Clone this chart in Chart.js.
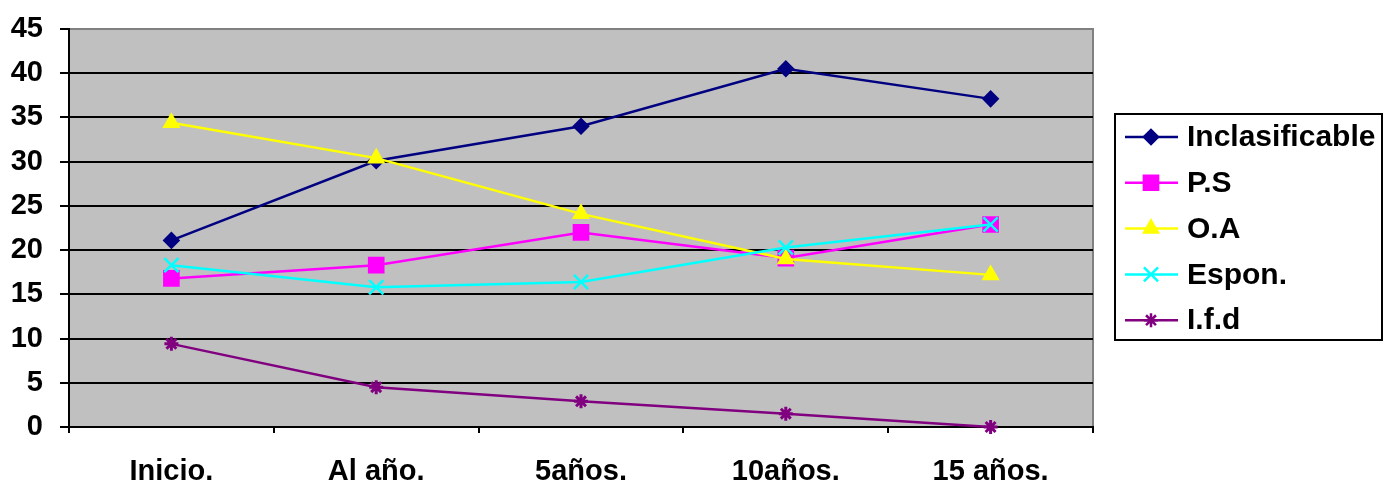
<!DOCTYPE html>
<html>
<head>
<meta charset="utf-8">
<script src="https://cdn.jsdelivr.net/npm/chart.js@4.4.0/dist/chart.umd.min.js"></script>
<style>
  html, body { margin: 0; padding: 0; background: #fff; }
  #wrap { width: 1384px; height: 487px; }
</style>
</head>
<body>
<div id="wrap"><canvas id="chart" width="1384" height="487"></canvas></div>
<script>
// data
var labels = ['Inicio.', 'Al año.', '5años.', '10años.', '15 años.'];
var inclasificable = [21.1, 30.1, 34.0, 40.5, 37.1];
var ps = [16.8, 18.3, 22.0, 19.1, 22.9];
var oa = [34.4, 30.4, 24.1, 19.0, 17.2];
var espon = [18.3, 15.8, 16.4, 20.3, 22.9];
var ifd = [9.4, 4.5, 2.9, 1.5, 0];

var FONT = "Arial, 'Liberation Sans', sans-serif";
var FSIZE = 29;

var series = [
    { label: 'Inclasificable', data: inclasificable, color: '#000080', style: 'rectRot', r: 7 },
    { label: 'P.S', data: ps, color: '#FF00FF', style: 'rect', r: 10 },
    { label: 'O.A', data: oa, color: '#FFFF00', style: 'triangle', r: 8 },
    { label: 'Espon.', data: espon, color: '#00FFFF', style: 'crossRot', r: 10 },
    { label: 'I.f.d', data: ifd, color: '#800080', style: 'star', r: 7 }
];

// gray plot background + border
var plotBg = {
    id: 'plotBg',
    beforeDraw: function(chart) {
        var a = chart.chartArea, ctx = chart.ctx;
        ctx.save();
        ctx.fillStyle = '#C0C0C0';
        ctx.fillRect(a.left, a.top, a.right - a.left, a.bottom - a.top);
        ctx.strokeStyle = '#808080';
        ctx.lineWidth = 2;
        ctx.beginPath();
        ctx.moveTo(a.left, a.top);
        ctx.lineTo(a.right, a.top);
        ctx.lineTo(a.right, a.bottom);
        ctx.stroke();
        ctx.restore();
    }
};

// legend with line + marker like the original
var sideLegend = {
    id: 'sideLegend',
    afterDraw: function(chart) {
        var ctx = chart.ctx, a = chart.chartArea;
        var x0 = a.right + 22, y0 = 114, w = 267, h = 226;
        ctx.save();
        ctx.fillStyle = '#fff';
        ctx.fillRect(x0, y0, w, h);
        ctx.strokeStyle = '#000';
        ctx.lineWidth = 2;
        ctx.strokeRect(x0, y0, w, h);
        series.forEach(function(s, i) {
            var y = 137 + i * 45.8;
            ctx.strokeStyle = s.color;
            ctx.fillStyle = s.color;
            ctx.lineWidth = 2.5;
            ctx.beginPath();
            ctx.moveTo(x0 + 10, y);
            ctx.lineTo(x0 + 63, y);
            ctx.stroke();
            Chart.helpers.drawPoint(ctx, { pointStyle: s.style, radius: s.r, rotation: 0, borderWidth: s.style === 'star' ? 3 : 2.5 }, x0 + 36, y);
            ctx.fillStyle = '#000';
            ctx.font = 'bold 30px ' + FONT;
            ctx.textBaseline = 'middle';
            ctx.textAlign = 'left';
            ctx.fillText(s.label, x0 + 72, y + 1);
        });
        ctx.restore();
    }
};

var datasets = series.map(function(s, i) {
    return {
        label: s.label,
        data: s.data,
        borderColor: s.color,
        backgroundColor: s.color,
        borderWidth: 2.5,
        pointStyle: s.style,
        pointRadius: s.r,
        pointBorderWidth: s.style === 'star' ? 3 : 2.5,
        pointBorderColor: s.color,
        pointBackgroundColor: s.color,
        tension: 0,
        clip: false,
        order: series.length - i
    };
});

new Chart(document.getElementById('chart'), {
    type: 'line',
    data: { labels: labels, datasets: datasets },
    plugins: [plotBg, sideLegend],
    options: {
        responsive: false,
        animation: false,
        devicePixelRatio: 1,
        layout: { padding: { top: 29, right: 291, left: 0, bottom: 0 } },
        plugins: { legend: { display: false }, tooltip: { enabled: false } },
        scales: {
            x: {
                offset: true,
                afterFit: function(s) { s.height = 60; s.paddingLeft = 0; s.paddingRight = 0; },
                grid: { offset: true, drawOnChartArea: false, color: '#000', lineWidth: 2, tickLength: 6 },
                border: { color: '#000', width: 2 },
                ticks: { color: '#000', font: { family: FONT, size: FSIZE, weight: 'bold' }, padding: 22, maxRotation: 0 }
            },
            y: {
                min: 0,
                max: 45,
                afterFit: function(s) { s.width = 69; s.paddingTop = 0; s.paddingBottom = 0; },
                grid: {
                    color: function(c) { return c.tick && c.tick.value === 45 ? '#808080' : '#000'; },
                    tickColor: '#000',
                    lineWidth: 2,
                    tickLength: 9
                },
                border: { color: '#000', width: 2 },
                ticks: { stepSize: 5, color: '#000', font: { family: FONT, size: FSIZE, weight: 'bold' }, padding: 17 }
            }
        }
    }
});
</script>
</body>
</html>
